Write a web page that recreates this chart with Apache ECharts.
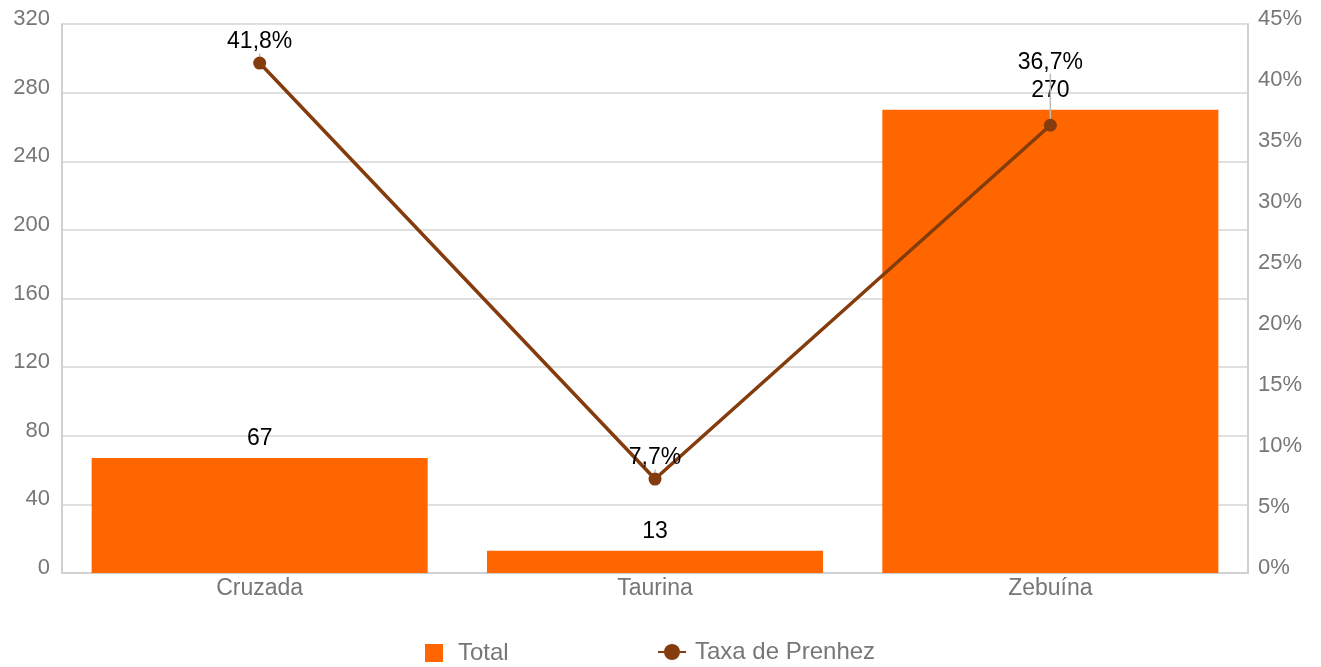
<!DOCTYPE html>
<html>
<head>
    <meta charset="utf-8">
    <script src="https://cdn.jsdelivr.net/npm/echarts@6/dist/echarts.min.js"></script>
    <style>
        html, body { margin: 0; padding: 0; background: #fff; }
        #main { width: 1321px; height: 667px; }
    </style>
</head>
<body>
<div id="main"></div>
<script type="text/javascript">
// dados
var categorias = ['Cruzada', 'Taurina', 'Zebuína'];
var total = [67, 13, 270];
var taxaPrenhez = [41.8, 7.7, 36.7];
var ticksEsq = [0, 40, 80, 120, 160, 200, 240, 280, 320];
var ticksDir = [0, 5, 10, 15, 20, 25, 30, 35, 40, 45];

var myChart = echarts.init(document.getElementById('main'));

var fonte = 'Liberation Sans, Arial, sans-serif';
var cinza = '#777';

var option = {
    animation: false,
    textStyle: { fontFamily: fonte },
    grid: { left: 62, right: 73, top: 24, bottom: 94 },
    // duas legendas para posicionar cada item
    legend: [{
        left: 425,
        top: 641,
        padding: 0,
        itemWidth: 18,
        itemHeight: 18,
        textStyle: { color: cinza, fontSize: 24, fontFamily: fonte, padding: [0, 0, 0, 10] },
        data: [{ name: 'Total', icon: 'rect', itemStyle: { color: '#ff6600' } }]
    }, {
        left: 657,
        top: 640,
        padding: 0,
        itemWidth: 28,
        itemHeight: 20,
        textStyle: { color: cinza, fontSize: 24, fontFamily: fonte, padding: [0, 0, 0, 4] },
        data: [{ name: 'Taxa de Prenhez' }]
    }],
    xAxis: {
        type: 'category',
        data: categorias,
        axisLine: { lineStyle: { color: '#d0d0d0', width: 2 } },
        axisTick: { show: false },
        axisLabel: { color: cinza, fontSize: 23, margin: 4, fontFamily: fonte }
    },
    yAxis: [{
        type: 'value',
        min: ticksEsq[0],
        max: ticksEsq[ticksEsq.length - 1],
        interval: 40,
        axisLine: { show: true, lineStyle: { color: '#d0d0d0', width: 2 } },
        axisTick: { show: false },
        splitLine: { lineStyle: { color: '#d6d6d6', width: 1.5 } },
        axisLabel: { color: cinza, fontSize: 22, margin: 12, fontFamily: fonte, verticalAlign: 'bottom', lineHeight: 10 }
    }, {
        type: 'value',
        min: ticksDir[0],
        max: ticksDir[ticksDir.length - 1],
        interval: 5,
        position: 'right',
        axisLine: { show: true, lineStyle: { color: '#d0d0d0', width: 2 } },
        axisTick: { show: false },
        splitLine: { show: false },
        axisLabel: { color: cinza, fontSize: 22, margin: 10, fontFamily: fonte, verticalAlign: 'bottom', lineHeight: 10, formatter: '{value}%' }
    }],
    series: [{
        name: 'Total',
        type: 'bar',
        data: total,
        barCategoryGap: '15%',
        itemStyle: { color: '#ff6600' },
        label: { show: true, position: 'top', distance: 8, color: '#000', fontSize: 23, fontFamily: fonte }
    }, {
        name: 'Taxa de Prenhez',
        type: 'line',
        yAxisIndex: 1,
        data: taxaPrenhez,
        symbol: 'circle',
        symbolSize: 13,
        lineStyle: { color: '#843c0c', width: 3.5 },
        itemStyle: { color: '#843c0c' },
        z: 5,
        label: {
            show: true,
            position: 'top',
            distance: 3,
            color: '#000',
            fontSize: 23,
            fontFamily: fonte,
            formatter: function (p) { return p.value.toFixed(1).replace('.', ',') + '%'; }
        },
        // rótulo de Zebuína deslocado para cima com linha guia
        labelLine: { show: true, lineStyle: { color: '#bbb', width: 1.5 } },
        labelLayout: function (p) {
            if (p.dataIndex === 2) return { dy: -42 };
            return {};
        }
    }]
};

myChart.setOption(option);
</script>
</body>
</html>
